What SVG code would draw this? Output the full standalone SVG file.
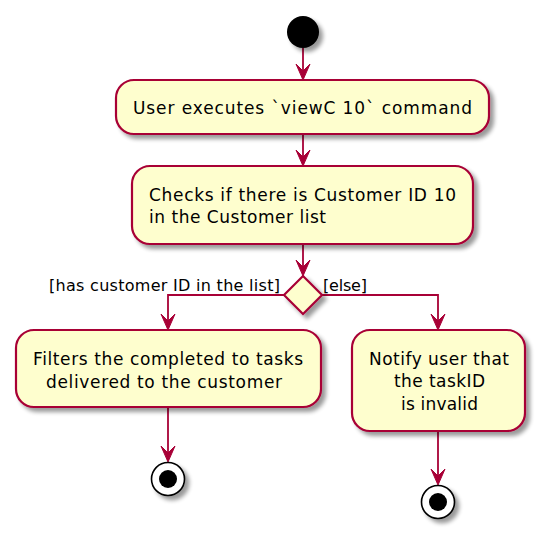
<svg xmlns="http://www.w3.org/2000/svg" width="540" height="535" viewBox="0 0 540 535">
<defs>
<filter id="sh" x="-20%" y="-20%" width="150%" height="160%">
<feGaussianBlur in="SourceAlpha" stdDeviation="2"/>
<feOffset dx="4" dy="4" result="b"/>
<feComponentTransfer><feFuncA type="linear" slope="0.4"/></feComponentTransfer>
<feMerge><feMergeNode/><feMergeNode in="SourceGraphic"/></feMerge>
</filter>
<style>
.act{fill:#FEFECE;stroke:#A80036;stroke-width:2.2;filter:url(#sh)}
.t{font-family:"DejaVu Sans",Verdana,sans-serif;font-size:17px;fill:#000}
.g{font-family:"DejaVu Sans",Verdana,sans-serif;font-size:16px;fill:#000}
.ln{fill:none;stroke:#A80036;stroke-width:1.8}
.ah{fill:#A80036;stroke:#A80036;stroke-width:1}
</style>
</defs>
<rect width="540" height="535" fill="#fff"/>
<g id="connectors">
<line class="ln" x1="303" y1="48" x2="303" y2="78"/>
<path class="ah" d="M303,80 L296,64 L303,71 L310,64 Z"/>
<line class="ln" x1="303" y1="134" x2="303" y2="164"/>
<path class="ah" d="M303,166 L296,150 L303,157 L310,150 Z"/>
<line class="ln" x1="303" y1="244" x2="303" y2="274"/>
<path class="ah" d="M303,276 L296,260 L303,267 L310,260 Z"/>
<polyline class="ln" points="284,295 168,295 168,328"/>
<path class="ah" d="M168,330 L161,314 L168,321 L175,314 Z"/>
<polyline class="ln" points="322,295 438,295 438,328"/>
<path class="ah" d="M438,330 L431,314 L438,321 L445,314 Z"/>
<line class="ln" x1="168" y1="407" x2="168" y2="460"/>
<path class="ah" d="M168,462 L161,446 L168,453 L175,446 Z"/>
<line class="ln" x1="438" y1="431" x2="438" y2="483"/>
<path class="ah" d="M438,485 L431,469 L438,476 L445,469 Z"/>
<text class="g" x="49" y="291" textLength="231" lengthAdjust="spacing">[has customer ID in the list]</text>
<text class="g" x="323" y="291" textLength="44" lengthAdjust="spacing">[else]</text>
</g>
<g id="start">
<circle cx="303" cy="32" r="16" fill="#000" filter="url(#sh)"/>
</g>
<g id="a1">
<rect class="act" x="116" y="80" width="373" height="54" rx="18"/>
<text class="t" x="133" y="114" textLength="339" lengthAdjust="spacing">User executes `viewC 10` command</text>
</g>
<g id="a2">
<rect class="act" x="132" y="166" width="341" height="78" rx="18"/>
<text class="t" x="149" y="201" textLength="307" lengthAdjust="spacing">Checks if there is Customer ID 10</text>
<text class="t" x="149" y="223" textLength="177" lengthAdjust="spacing">in the Customer list</text>
</g>
<g id="decision">
<polygon class="act" points="303,276 322,295 303,314 284,295"/>
</g>
<g id="a3">
<rect class="act" x="16" y="330" width="305" height="77" rx="18"/>
<text class="t" x="33" y="365" textLength="270" lengthAdjust="spacing">Filters the completed to tasks</text>
<text class="t" x="46" y="388" textLength="236" lengthAdjust="spacing">delivered to the customer</text>
</g>
<g id="a4">
<rect class="act" x="352" y="330" width="173" height="101" rx="18"/>
<text class="t" x="369" y="365" textLength="140" lengthAdjust="spacing">Notify user that</text>
<text class="t" x="394" y="387" textLength="91" lengthAdjust="spacing">the taskID</text>
<text class="t" x="401" y="410" textLength="77" lengthAdjust="spacing">is invalid</text>
</g>
<g id="end1">
<circle cx="168" cy="479" r="16.5" fill="#fff" stroke="#000" stroke-width="1.6" filter="url(#sh)"/>
<circle cx="168" cy="479" r="9" fill="#000"/>
</g>
<g id="end2">
<circle cx="438" cy="502" r="16.5" fill="#fff" stroke="#000" stroke-width="1.6" filter="url(#sh)"/>
<circle cx="438" cy="502" r="9" fill="#000"/>
</g>
</svg>
